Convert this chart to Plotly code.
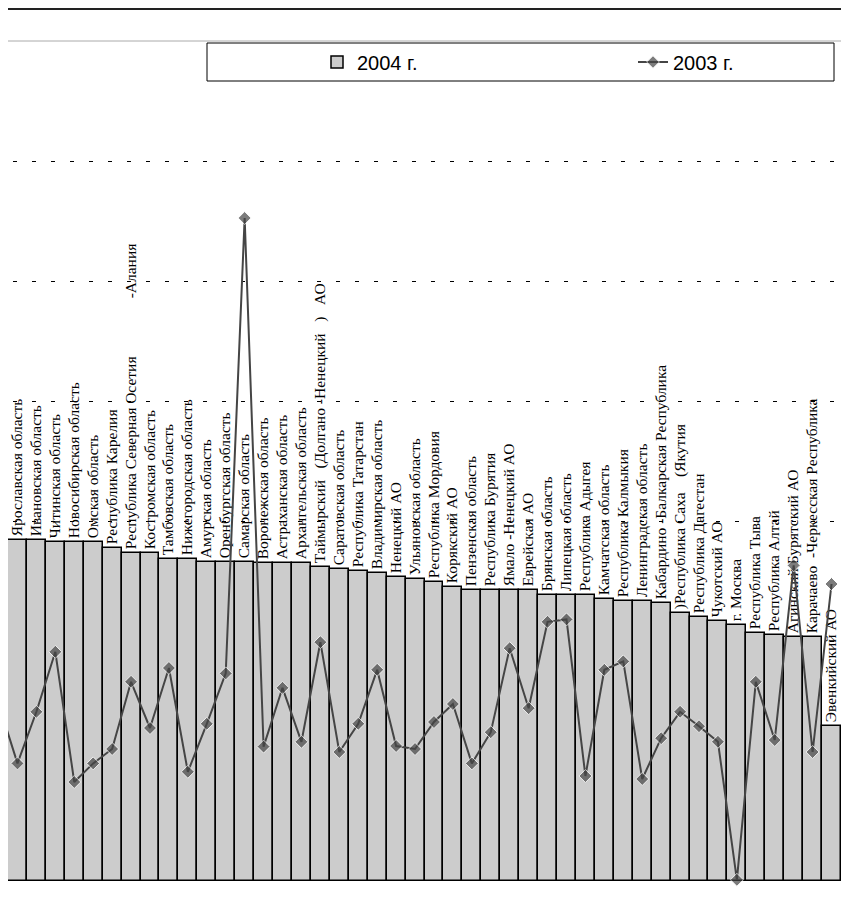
import plotly.graph_objects as go

NB = "\u00a0"

regions = [
    "Ярославская область",
    "Ивановская область",
    "Читинская область",
    "Новосибирская область",
    "Омская область",
    "Республика Карелия",
    "Республика Северная Осетия" + NB * 15 + "-Алания",
    "Костромская область",
    "Тамбовская область",
    "Нижегородская область",
    "Амурская область",
    "Оренбургская область",
    "Самарская область",
    "Воронежская область",
    "Астраханская область",
    "Архангельская область",
    "Таймырский" + NB * 3 + "(Долгано -Ненецкий" + NB * 3 + ")" + NB * 3 + "АО",
    "Саратовская область",
    "Республика Татарстан",
    "Владимирская область",
    "Ненецкий АО",
    "Ульяновская область",
    "Республика Мордовия",
    "Корякский АО",
    "Пензенская область",
    "Республика Бурятия",
    "Ямало -Ненецкий АО",
    "Еврейская АО",
    "Брянская область",
    "Липецкая область",
    "Республика Адыгея",
    "Камчатская область",
    "Республика Калмыкия",
    "Ленинградская область",
    "Кабардино -Балкарская Республика",
    ")Республика Саха" + NB * 4 + "(Якутия",
    "Республика Дагестан",
    "Чукотский АО",
    "г. Москва",
    "Республика Тыва",
    "Республика Алтай",
    "Агинский Бурятский АО",
    "Карачаево" + NB * 2 + "-Черкесская Республика",
    "Эвенкийский АО",
]

values_2004 = [28.4, 28.4, 28.25, 28.25, 28.25, 27.75, 27.3, 27.3, 26.8, 26.8,
               26.6, 26.6, 26.6, 26.5, 26.5, 26.5, 26.2, 26.0, 25.8, 25.7,
               25.3, 25.2, 24.9, 24.5, 24.25, 24.25, 24.25, 24.25, 23.8, 23.8,
               23.8, 23.5, 23.3, 23.3, 23.2, 22.3, 22.0, 21.7, 21.3, 20.7,
               20.5, 20.3, 20.3, 12.9]

values_2003 = [9.8, 14.1, 19.1, 8.25, 9.8, 11.0, 16.6, 12.75, 17.75, 9.1,
               13.1, 17.3, 55.25, 11.2, 16.1, 11.6, 19.9, 10.75, 13.1, 17.6,
               11.25, 11.0, 13.25, 14.75, 9.8, 12.4, 19.4, 14.4, 21.6, 21.8,
               8.75, 17.6, 18.3, 8.5, 11.9, 14.1, 12.9, 11.6, 0.1, 16.6,
               11.75, 26.3, 10.75, 24.75]

# value of the preceding (cropped-off) region of the 2003 series, visible only as a line stub
prev_2003 = 14.8

positions = list(range(1, len(regions) + 1))

# page geometry (the page body adds an 8px offset on every side)
OFF = 8
W, H = 833, 890
L, T = 0, 1
PB = 881                # page y of plot bottom
B = OFF + H - PB
ph = H - T - B
pw = W - L

def px_x(page_x):
    return (page_x - OFF - L) / pw

def px_y(page_y):
    return (PB - page_y) / ph

fig = go.Figure()
fig.add_trace(go.Bar(
    x=positions, y=values_2004, name="2004 г.",
    marker=dict(color="#cccccc", line=dict(color="black", width=1.5)),
    text=regions, textposition="outside", textangle=-90,
    textfont=dict(family="Liberation Serif", size=15.5, color="black"),
    constraintext="none", cliponaxis=False, hoverinfo="skip",
    legend="legend",
))
fig.add_trace(go.Scatter(
    x=[0] + positions, y=[prev_2003] + values_2003, name="2003 г.",
    mode="lines+markers",
    line=dict(color="#454545", width=2),
    marker=dict(symbol="diamond", size=[0] + [10] * len(positions), color="#454545"),
    cliponaxis=False,
    legend="legend2",
))

leg_common = dict(
    orientation="h", xanchor="left", yanchor="middle",
    bgcolor="rgba(0,0,0,0)", borderwidth=0,
    font=dict(family="Liberation Sans", size=20, color="black"),
)

fig.update_layout(
    width=W, height=H,
    margin=dict(l=L, r=0, t=T, b=B, pad=0),
    paper_bgcolor="white", plot_bgcolor="white",
    bargap=0,
    showlegend=True,
    legend=dict(x=px_x(317), y=px_y(62), **leg_common),
    legend2=dict(x=px_x(633), y=px_y(62), **leg_common),
    xaxis=dict(range=[0.5, len(regions) + 0.5], showticklabels=False,
               showgrid=False, zeroline=False, showline=False, ticks=""),
    yaxis=dict(range=[0, ph / 12.0], tickvals=[10, 20, 30, 40, 50, 60],
               showticklabels=False, showgrid=True, gridcolor="black",
               gridwidth=1, griddash="0px,5px,4px,10px",
               zeroline=False, showline=False, ticks=""),
    shapes=[
        dict(type="line", xref="paper", yref="paper", x0=0, x1=1, y0=1, y1=1,
             line=dict(color="#222222", width=2)),
        dict(type="line", xref="paper", yref="y", x0=0, x1=1, y0=70, y1=70,
             line=dict(color="#aaaaaa", width=1), layer="below"),
        dict(type="rect", xref="paper", yref="paper",
             x0=px_x(207), x1=px_x(834), y0=px_y(81), y1=px_y(43),
             line=dict(color="black", width=1), fillcolor="rgba(0,0,0,0)"),
    ],
)

fig.write_html("out.html")
